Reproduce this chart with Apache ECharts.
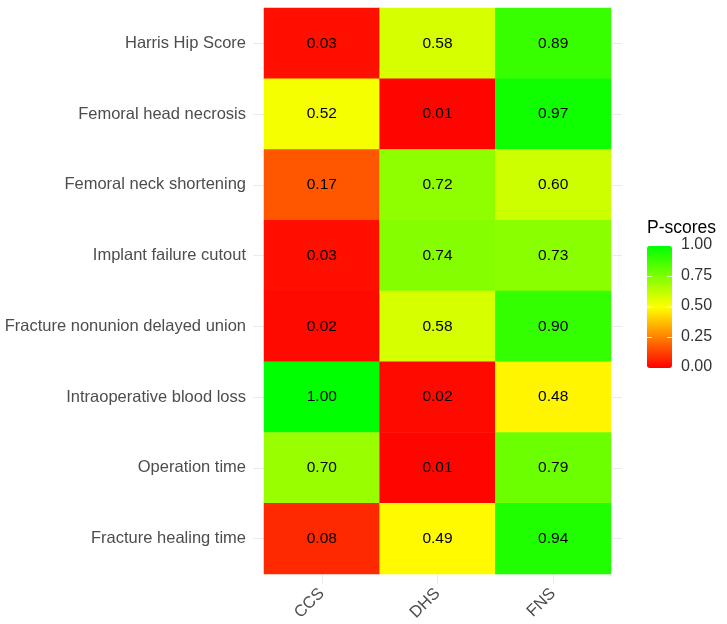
<!DOCTYPE html>
<html>
<head>
<meta charset="utf-8">
<script src="https://cdn.jsdelivr.net/npm/echarts@6/dist/echarts.min.js"></script>
<style>
  html, body { margin: 0; padding: 0; background: #fff; }
  #chart { width: 727px; height: 624px; }
</style>
</head>
<body>
<div id="chart"></div>
<script>
// 行（从上到下）
const outcomes = [
  'Harris Hip Score',
  'Femoral head necrosis',
  'Femoral neck shortening',
  'Implant failure cutout',
  'Fracture nonunion delayed union',
  'Intraoperative blood loss',
  'Operation time',
  'Fracture healing time'
]
const methods = ['CCS', 'DHS', 'FNS']
const ccsScores = [0.03, 0.52, 0.17, 0.03, 0.02, 1.00, 0.70, 0.08]
const dhsScores = [0.58, 0.01, 0.72, 0.74, 0.58, 0.02, 0.01, 0.49]
const fnsScores = [0.89, 0.97, 0.60, 0.73, 0.90, 0.48, 0.79, 0.94]
const legendTicks = [0, 0.25, 0.5, 0.75, 1]

const font = 'Liberation Sans, Arial, sans-serif'
const gridColor = '#ebebeb'

// 组装热力图数据 [x, y, value]
let cells = []
const cols = [ccsScores, dhsScores, fnsScores]
for (let i = 0; i < cols.length; i++) {
  for (let j = 0; j < outcomes.length; j++) {
    cells.push([i, j, cols[i][j]])
  }
}

// 图例位置
const barLeft = 647, barTop = 246, barW = 25, barH = 122
let legendGraphics = [{
  type: 'text', left: barLeft, top: barTop - 27,
  style: { text: 'P-scores', font: '17.5px ' + font, fill: '#000' }
}]
legendTicks.forEach(v => {
  const y = barTop + barH - v * barH
  legendGraphics.push({
    type: 'text', left: 681, top: y - 9,
    style: { text: v.toFixed(2), font: '16px ' + font, fill: '#333' }
  })
  if (v > 0 && v < 1) {
    legendGraphics.push({
      type: 'line', z: 100,
      shape: { x1: barLeft, y1: y, x2: barLeft + 5, y2: y },
      style: { stroke: '#fff', lineWidth: 1, opacity: 0.8 }
    })
    legendGraphics.push({
      type: 'line', z: 100,
      shape: { x1: barLeft + barW - 5, y1: y, x2: barLeft + barW, y2: y },
      style: { stroke: '#fff', lineWidth: 1, opacity: 0.8 }
    })
  }
})

let myChart = echarts.init(document.getElementById('chart'))
myChart.setOption({
  animation: false,
  backgroundColor: '#fff',
  textStyle: { fontFamily: font },
  grid: { left: 264, right: 116, top: 8, bottom: 50 },
  xAxis: {
    type: 'category',
    data: methods,
    axisLine: { show: false },
    axisTick: { show: true, alignWithLabel: true, length: 10, lineStyle: { color: gridColor } },
    axisLabel: { rotate: 45, margin: 17, fontSize: 16.5, color: '#4d4d4d', fontFamily: font },
    splitLine: { show: false }
  },
  yAxis: [{
    type: 'category',
    data: outcomes,
    inverse: true,
    axisLine: { show: false },
    axisTick: { show: true, alignWithLabel: true, length: 11, lineStyle: { color: gridColor } },
    axisLabel: { margin: 18, fontSize: 16.5, color: '#4d4d4d', fontFamily: font },
    splitLine: { show: false }
  }, {
    type: 'category',
    data: outcomes,
    inverse: true,
    position: 'right',
    axisLine: { show: false },
    axisTick: { show: true, alignWithLabel: true, length: 11, lineStyle: { color: gridColor } },
    axisLabel: { show: false },
    splitLine: { show: false }
  }],
  visualMap: {
    type: 'continuous',
    min: 0,
    max: 1,
    calculable: false,
    orient: 'vertical',
    left: barLeft,
    top: barTop,
    padding: 0,
    itemWidth: barW,
    itemHeight: barH,
    inRange: { color: ['#ff0000', '#ffff00', '#00ff00'] }
  },
  graphic: legendGraphics,
  series: [{
    type: 'heatmap',
    data: cells,
    itemStyle: { borderWidth: 0 },
    label: {
      show: true,
      color: '#000',
      fontSize: 15.5,
      fontFamily: font,
      formatter: p => p.value[2].toFixed(2)
    }
  }]
})
window.addEventListener('resize', function () {
  myChart.resize()
})
</script>
</body>
</html>
